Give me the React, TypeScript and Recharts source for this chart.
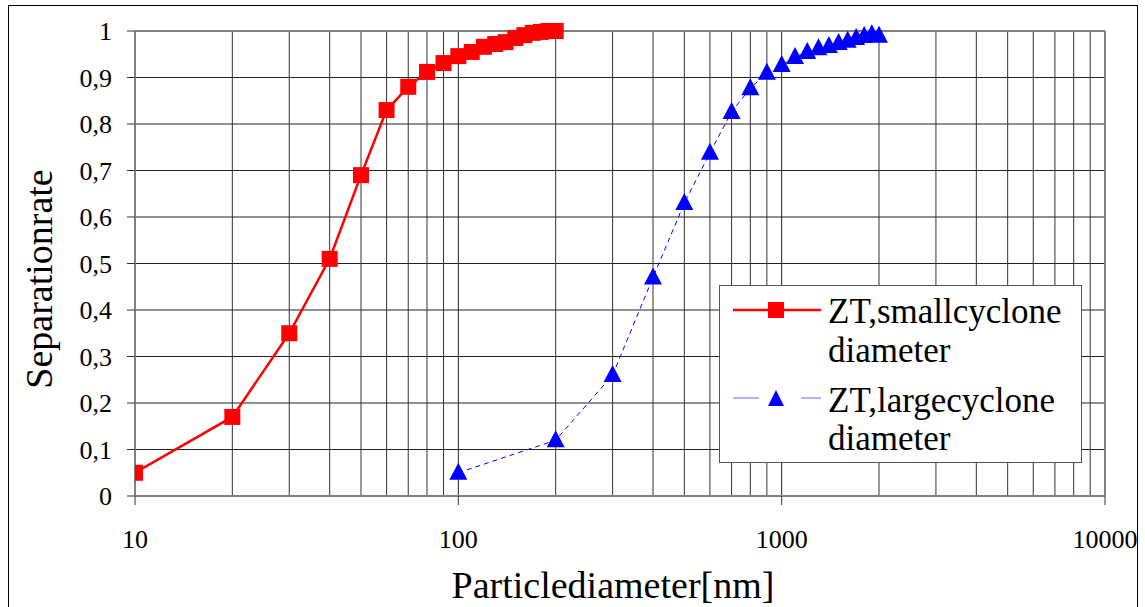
import { CartesianGrid, Label, Line, LineChart, ReferenceLine, XAxis, YAxis } from 'recharts';

const smallX = [10, 20, 30, 40, 50, 60, 70, 80, 90, 100, 110, 120, 130, 140, 150, 160, 170, 180, 190, 200];
const smallY = [0.05, 0.17, 0.35, 0.51, 0.69, 0.83, 0.88, 0.912, 0.931, 0.946, 0.955, 0.966, 0.972, 0.976, 0.985, 0.991, 0.996, 0.998, 1.0, 1.0];
const largeX = [100, 200, 300, 400, 500, 600, 700, 800, 900, 1000, 1100, 1200, 1300, 1400, 1500, 1600, 1700, 1800, 1900, 2000];
const largeY = [0.05, 0.12, 0.26, 0.47, 0.63, 0.738, 0.826, 0.877, 0.91, 0.927, 0.944, 0.955, 0.963, 0.968, 0.974, 0.979, 0.985, 0.989, 0.993, 0.99];
const xTicks = [10, 100, 1000, 10000];
const xMinor = [20, 30, 40, 50, 60, 70, 80, 90, 200, 300, 400, 500, 600, 700, 800, 900, 2000, 3000, 4000, 5000, 6000, 7000, 8000, 9000];
const yTicks = [0, 0.1, 0.2, 0.3, 0.4, 0.5, 0.6, 0.7, 0.8, 0.9, 1];
const legendLines = [['ZT,smallcyclone', 'diameter'], ['ZT,largecyclone', 'diameter']];

const small = smallX.map((x, i) => ({ x, y: smallY[i] }));
const large = largeX.map((x, i) => ({ x, y: largeY[i] }));

const FONT = "'Liberation Serif', Tinos, 'Times New Roman', Times, serif";

function Square(props: any) {
  const { cx, cy } = props;
  if (cx == null || cy == null) return null;
  return <rect x={cx - 8} y={cy - 8} width={16} height={16} fill="#FF0000" />;
}

function Triangle(props: any) {
  const { cx, cy } = props;
  if (cx == null || cy == null) return null;
  return <polygon points={`${cx},${cy - 10} ${cx - 9},${cy + 7} ${cx + 9},${cy + 7}`} fill="#0000FF" />;
}

function LegendBox() {
  const textStyle = { fontFamily: FONT, fontSize: 35, fill: '#000' };
  return (
    <svg width={363} height={178} style={{ position: 'absolute', left: 719, top: 285 }}>
      <rect x={0.5} y={0.5} width={362} height={177} fill="#fff" stroke="#555" strokeWidth={1} />
      <line x1={14} y1={25} x2={102} y2={25} stroke="#FF0000" strokeWidth={2.5} />
      <rect x={49} y={17} width={16} height={16} fill="#FF0000" />
      <text x={109} y={38} style={textStyle}>{legendLines[0][0]}</text>
      <text x={109} y={77} style={textStyle}>{legendLines[0][1]}</text>
      <line x1={14} y1={113} x2={40} y2={113} stroke="#6666FF" strokeWidth={1} />
      <line x1={82} y1={113} x2={102} y2={113} stroke="#6666FF" strokeWidth={1} />
      <polygon points="57,105 49,121 65,121" fill="#0000FF" />
      <text x={109} y={127} style={textStyle}>{legendLines[1][0]}</text>
      <text x={109} y={165} style={textStyle}>{legendLines[1][1]}</text>
    </svg>
  );
}

function YTitle() {
  return (
    <text x={52} y={279} transform="rotate(-90, 52, 279)" textAnchor="middle" style={{ fontFamily: FONT, fontSize: 38, fill: '#000' }}>
      Separationrate
    </text>
  );
}

export default function App() {
  return (
    <div style={{ position: 'absolute', left: 0, top: 0, width: 1145, height: 607, background: '#fff', overflow: 'hidden' }}>
      <div style={{ position: 'absolute', left: 8, top: 5, width: 1130, height: 603, border: '1px solid #000', boxSizing: 'border-box' }} />
      <LineChart width={1145} height={607} margin={{ top: 31, right: 40, left: 0, bottom: 0 }} style={{ position: 'absolute', left: 0, top: 0 }}>
        <CartesianGrid stroke="#222" strokeWidth={1} vertical={true} horizontal={true} />
        {xMinor.map((v) => (
          <ReferenceLine key={v} x={v} stroke="#333" strokeWidth={1} ifOverflow="hidden" />
        ))}
        <XAxis
          type="number"
          dataKey="x"
          scale="log"
          domain={[10, 10000]}
          ticks={xTicks}
          interval={0}
          allowDataOverflow
          height={111}
          stroke="#808080"
          strokeWidth={2}
          tickSize={9}
          tickLine={{ stroke: '#333', strokeWidth: 1 }}
          tick={{ fill: '#000', fontSize: 26, fontFamily: FONT, dy: 23 }}
        >
          <Label value="Particlediameter[nm]" position="insideBottom" offset={9} dx={-7} style={{ fill: '#000', fontSize: 38, fontFamily: FONT }} />
        </XAxis>
        <YAxis
          type="number"
          domain={[0, 1]}
          ticks={yTicks}
          interval={0}
          width={135}
          stroke="#808080"
          strokeWidth={2}
          tickSize={8}
          tickLine={{ stroke: '#333', strokeWidth: 1 }}
          tickFormatter={(v: number) => String(v).replace('.', ',')}
          tick={{ fill: '#000', fontSize: 26, fontFamily: FONT, dx: -13 }}
        >
          <Label content={<YTitle />} />
        </YAxis>
        <ReferenceLine y={1} stroke="#808080" strokeWidth={2} />
        <ReferenceLine x={10000} stroke="#808080" strokeWidth={2} />
        <Line data={large} dataKey="y" type="linear" stroke="#0000FF" strokeWidth={1} strokeDasharray="5 4" dot={<Triangle />} isAnimationActive={false} legendType="none" />
        <Line data={small} dataKey="y" type="linear" stroke="#FF0000" strokeWidth={2.5} dot={<Square />} isAnimationActive={false} legendType="none" />
      </LineChart>
      <LegendBox />
    </div>
  );
}
